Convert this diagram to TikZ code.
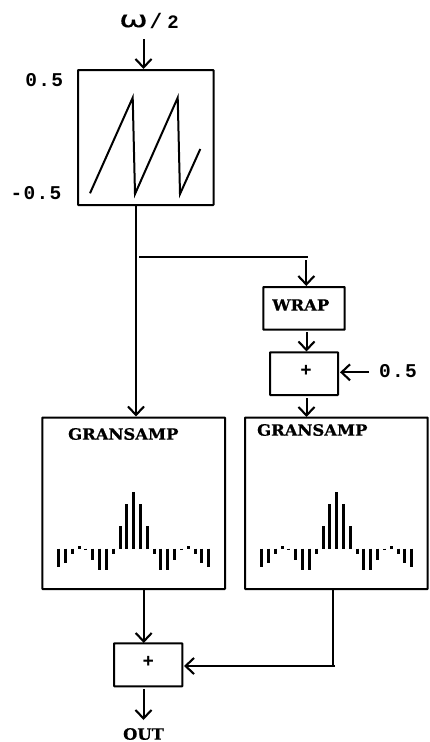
\documentclass[tikz,border=0pt]{standalone}
\usepackage{fontspec}
\setmainfont{Liberation Mono}
\newfontfamily\spacedmono{Liberation Mono}[LetterSpace=7]
\newfontfamily\slabfont{DejaVu Serif}[BoldFont={* Bold},BoldFeatures={FakeStretch=1.05,FakeBold=0.6}]
\newfontfamily\omegafont{DejaVu Sans}[FakeStretch=1.5,FakeBold=0.4]
\usetikzlibrary{arrows.meta,calc}
\tikzset{
  x=1pt,y=-1pt,
  boxnode/.style={draw=black,line width=2pt,rounded corners=0.5pt,inner sep=0pt,fill=none},
  conn/.style={line width=2pt,black},
  arr/.style={conn,-{Straight Barb[length=8.5pt,width=16pt,line width=2.1pt]}},
  slab/.style={font=\slabfont\bfseries\fontsize{15.6}{16}\selectfont,inner sep=0pt,text=black},
  mono/.style={font=\spacedmono\bfseries\fontsize{19.5}{20}\selectfont,inner sep=0pt},
  plusmark/.style={font=\bfseries\fontsize{19}{20}\selectfont,inner sep=0pt},
  bar/.style={line width=3pt,black},
}
\newcommand{\specbars}[2]{%
  \foreach \k/\h in {0/56.3,1/45,2/22.7,3/-5,4/-21,5/-21,6/-11.7,7/-1,8/2.3,9/-5,10/-14.3,11/-18.3}{%
    \draw[bar] (#1+6.82*\k,#2) -- ++(0,-\h);
    \draw[bar] (#1-6.82*\k,#2) -- ++(0,-\h);
  }%
}
\begin{document}
\begin{tikzpicture}
\useasboundingbox (0,0) rectangle (429,742);
% boxes
\node[boxnode,minimum width=135.5pt,minimum height=135pt] (saw) at (145.75,137.5) {};
\node[boxnode,minimum width=182.7pt,minimum height=171.5pt] (gsa) at (133.65,503.25) {};
\node[boxnode,minimum width=182.7pt,minimum height=171.5pt] (gsb) at (336.35,503.25) {};
\node[boxnode,minimum width=81.4pt,minimum height=42.7pt] (wrapbox) at (304,308.35) {};
\node[boxnode,minimum width=68pt,minimum height=42.7pt] (addr) at (304,373.65) {};
\node[boxnode,minimum width=68.3pt,minimum height=43pt] (addo) at (148.15,664.8) {};
% box texts
\node[slab] (wraplab) at (300.7,305) {WRAP};
\node[plusmark] (plusr) at (306,371) {+};
\node[plusmark] (pluso) at (148.3,662) {+};
\node[slab] (gsalab) at (123.3,434) {GRANSAMP};
\node[slab] (gsblab) at (312.3,430) {GRANSAMP};
\node[slab] (outlab) at (143.5,734) {OUT};
% free labels
\node[mono] (hi) at (44.3,80) {0.5};
\node[mono] (lo) at (36,193) {-0.5};
\node[mono] (half) at (398,371) {0.5};
\node[inner sep=0pt,font=\omegafont\fontsize{23}{24}\selectfont] (om) at (133.5,21) {ω};
\node[inner sep=0pt,font=\bfseries\fontsize{21}{22}\selectfont] (sl) at (156,21) {/};
\node[inner sep=0pt,font=\bfseries\fontsize{19}{20}\selectfont] (two) at (173,22.5) {2};
% saw wave
\draw[line width=2pt,line join=miter] (90,193.3) -- (132.7,97.7) -- (135,194) -- (177.7,97.7) -- (180,194) -- (200.3,149);
% spectra
\specbars{133.7}{548.7}
\specbars{336.7}{548.7}
% connector ends
\coordinate (omin) at (143.5,39);
\coordinate (branch) at (139.3,257.3);
\coordinate (branchend) at (308.3,257.3);
\coordinate (branchdrop) at (306.3,260);
\coordinate (halfout) at (369,372.3);
\coordinate (outend) at (143.5,720);
\coordinate (corner) at (333.3,666);
% connectors
\draw[arr] (omin) -- (omin |- saw.north);
\draw[arr] (136,206) -- (136,416.5);
\draw[conn] (branch) -- (branchend);
\draw[arr] (branchdrop) -- (branchdrop |- wrapbox.north);
\draw[arr] (306.5,332) -- (306.5,351.5);
\draw[arr] (306.5,398) -- (306.5,417);
\draw[arr] (halfout) -- (340,372.3);
\draw[arr] (143.7,590) -- (143.7,643);
\draw[conn] (333.3,589) -- (corner);
\draw[arr] (335,666) -- (184,666);
\draw[arr] (143.5,689) -- (outend);
\end{tikzpicture}
\end{document}
